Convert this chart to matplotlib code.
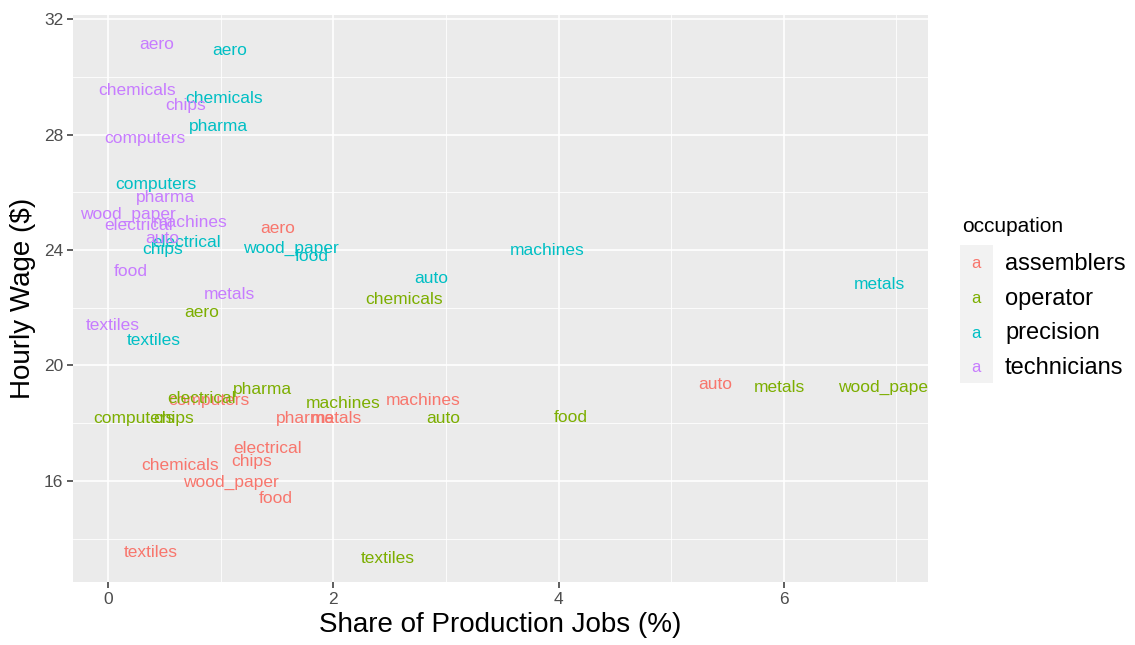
import matplotlib
matplotlib.use('Agg')
import matplotlib.pyplot as plt
from matplotlib.patches import Rectangle

plt.rcParams['font.family'] = ['Liberation Sans', 'DejaVu Sans']

occupations = ['assemblers', 'operator', 'precision', 'technicians']
colors = ['#F8766D', '#7CAE00', '#00BFC4', '#C77CFF']

# industry labels, share of production jobs (%), hourly wage ($)
assemblers_ind = ['aero', 'auto', 'chemicals', 'chips', 'computers', 'electrical',
                  'food', 'machines', 'metals', 'pharma', 'textiles', 'wood_paper']
assemblers_x = [1.51, 5.39, 0.64, 1.28, 0.90, 1.42, 1.49, 2.80, 2.03, 1.75, 0.38, 1.09]
assemblers_y = [24.80, 19.40, 16.60, 16.71, 18.85, 17.16, 15.43, 18.85, 18.23, 18.23, 13.59, 16.01]

operator_ind = ['aero', 'auto', 'chemicals', 'chips', 'computers', 'electrical',
                'food', 'machines', 'metals', 'pharma', 'textiles', 'wood_paper']
operator_x = [0.83, 2.98, 2.63, 0.58, 0.23, 0.83, 4.11, 2.09, 5.96, 1.37, 2.48, 6.91]
operator_y = [21.90, 18.23, 22.35, 18.23, 18.23, 18.92, 18.26, 18.75, 19.30, 19.23, 13.35, 19.30]

precision_ind = ['aero', 'auto', 'chemicals', 'chips', 'computers', 'electrical',
                 'food', 'machines', 'metals', 'pharma', 'textiles', 'wood_paper']
precision_x = [1.08, 2.87, 1.03, 0.49, 0.43, 0.70, 1.81, 3.90, 6.85, 0.98, 0.41, 1.62]
precision_y = [30.96, 23.07, 29.30, 24.08, 26.33, 24.32, 23.83, 24.04, 22.87, 28.33, 20.93, 24.11]

technicians_ind = ['aero', 'auto', 'chemicals', 'chips', 'computers', 'electrical',
                   'food', 'machines', 'metals', 'pharma', 'textiles', 'wood_paper']
technicians_x = [0.43, 0.48, 0.26, 0.69, 0.33, 0.27, 0.20, 0.73, 1.08, 0.51, 0.04, 0.18]
technicians_y = [31.17, 24.45, 29.58, 29.06, 27.92, 24.91, 23.31, 25.01, 22.52, 25.88, 21.45, 25.29]

groups = [
    (assemblers_ind, assemblers_x, assemblers_y),
    (operator_ind, operator_x, operator_y),
    (precision_ind, precision_x, precision_y),
    (technicians_ind, technicians_x, technicians_y),
]

fig = plt.figure(figsize=(11.35, 6.45), dpi=100)
ax = fig.add_axes([73 / 1135, 1 - 582 / 645, (928 - 73) / 1135, (582 - 15) / 645])
ax.set_facecolor('#EBEBEB')
for s in ax.spines.values():
    s.set_visible(False)

ax.set_xlim(-0.31, 7.28)
ax.set_ylim(12.5, 32.14)
ax.set_xticks([0, 2, 4, 6])
ax.set_yticks([16, 20, 24, 28, 32])
ax.set_xticks([1, 3, 5, 7], minor=True)
ax.set_yticks([14, 18, 22, 26, 30], minor=True)
ax.grid(True, which='major', color='white', linewidth=1.2)
ax.grid(True, which='minor', color='white', linewidth=0.6)
ax.set_axisbelow(True)
ax.tick_params(which='major', length=4, width=1.1, color='#333333',
               labelsize=12.5, labelcolor='#4D4D4D', pad=3)
ax.tick_params(which='minor', length=0)

for (ind, xs, ys), col in zip(groups, colors):
    for name, x, y in zip(ind, xs, ys):
        ax.text(x, y, name, color=col, fontsize=12.5, ha='center',
                va='center_baseline', clip_on=True)

ax.set_xlabel('Share of Production Jobs (%)', fontsize=20, labelpad=4)
ax.set_ylabel('Hourly Wage ($)', fontsize=20, labelpad=6)

# legend drawn by hand, ggplot style
fig.text(962 / 1135, 1 - 226 / 645, 'occupation', fontsize=15, va='center', ha='left')
fig.patches.append(Rectangle((960 / 1135, 1 - 383 / 645), 33 / 1135, 138 / 645,
                             transform=fig.transFigure, facecolor='#F2F2F2',
                             edgecolor='none'))
for i, (occ, col) in enumerate(zip(occupations, colors)):
    yy = 1 - (264 + i * 34.5) / 645
    fig.text(976 / 1135, yy, 'a', color=col, fontsize=12, ha='center', va='center')
    fig.text(1005 / 1135, yy, occ, fontsize=17, ha='left', va='center')

fig.savefig('out.png', dpi=100)
